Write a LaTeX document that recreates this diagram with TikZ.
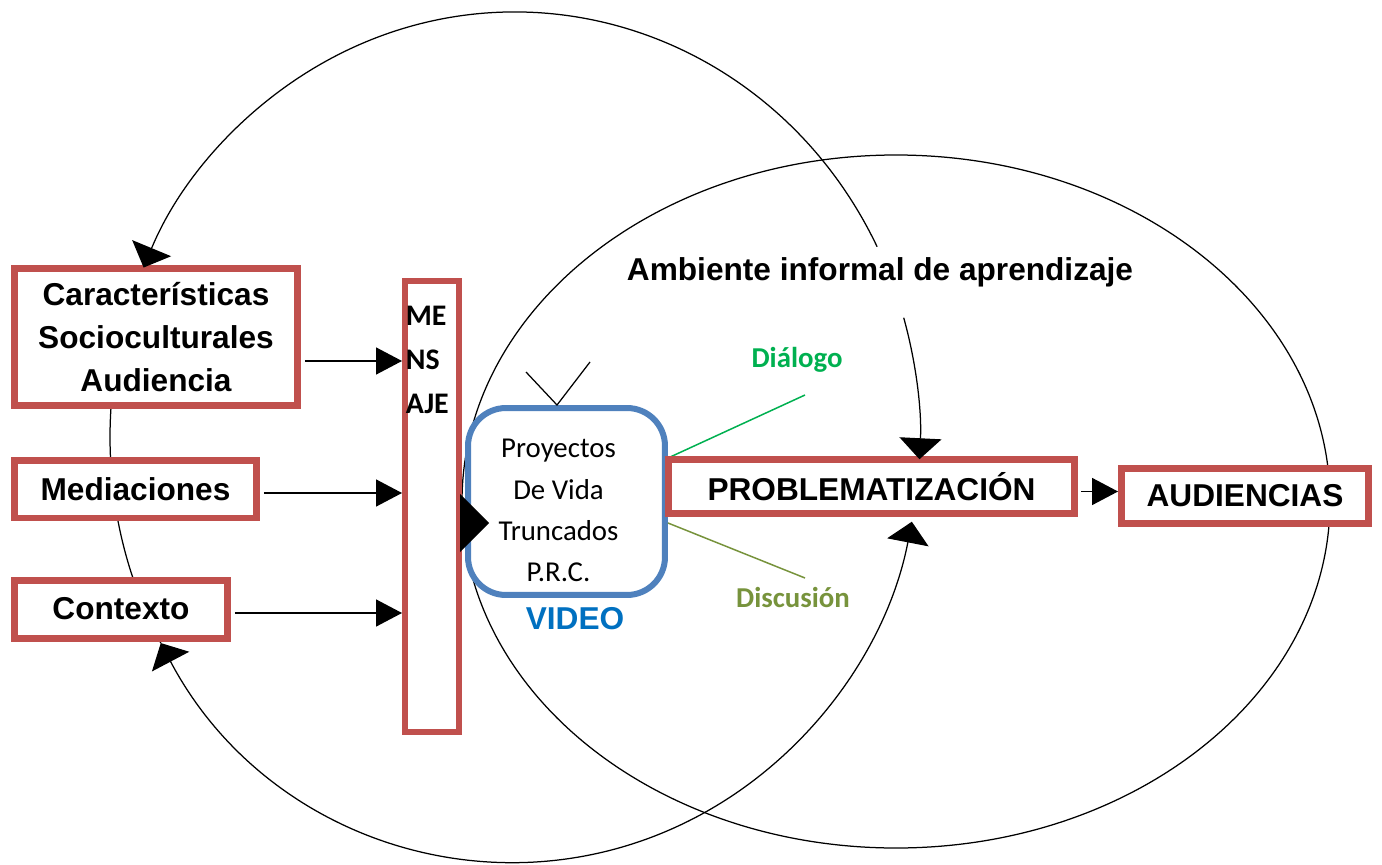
\documentclass[tikz,border=0pt]{standalone}
\usepackage{fontspec}
\setmainfont{Liberation Sans}
\newfontfamily\calibri{Carlito}
\usepackage{tikz}
\usetikzlibrary{arrows.meta, positioning}
\definecolor{boxred}{RGB}{192,80,77}
\definecolor{videoblue}{RGB}{79,129,189}
\definecolor{videolabel}{RGB}{0,112,192}
\definecolor{dialgreen}{RGB}{0,176,80}
\definecolor{discolive}{RGB}{119,147,60}
\tikzstyle{redbox} = [rectangle, draw=boxred, line width=0.14cm, fill=white,
    align=center, font=\bfseries\fontsize{18}{24.4}\selectfont]
\tikzstyle{mensajebar} = [rectangle, draw=boxred, line width=0.12cm, fill=white,
    minimum width=1.08cm, minimum height=9.02cm]
\tikzstyle{videobox} = [rectangle, rounded corners=0.76cm, draw=videoblue, line width=0.12cm,
    minimum width=3.94cm, minimum height=3.74cm]
\tikzstyle{videotext} = [align=center, font=\calibri\fontsize{16.4}{23.4}\selectfont]
\tikzstyle{titletext} = [font=\bfseries\fontsize{18}{22}\selectfont]
\tikzstyle{tagtext} = [font=\calibri\bfseries\fontsize{16.4}{20}\selectfont]
\tikzstyle{thinline} = [line width=0.025cm]
\tikzstyle{arrow} = [line width=0.03cm, -{Triangle[length=0.52cm, width=0.54cm]}]
\tikzstyle{bigarrow} = [line width=0.03cm, -{Triangle[length=0.58cm, width=1.16cm]}]
\tikzstyle{looparrow} = [line width=0.025cm, -{Triangle[length=0.42cm, width=0.84cm]}]
\tikzstyle{loopboth} = [line width=0.025cm,
    {Triangle[length=0.42cm, width=0.84cm]}-{Triangle[length=0.42cm, width=0.84cm]}]

\begin{document}
\begin{tikzpicture}[x=0.02cm, y=-0.02cm]
    \useasboundingbox (0,0) rectangle (1382,865);
    % the two circles, behind the boxes
    \coordinate (loopc) at (515,437);
    \draw [thinline] (896,501.5) ellipse [x radius=434, y radius=346.5];
    \draw [thinline] ([shift={(203.5:405 and 425)}]loopc)
        arc [start angle=203.5, end angle=151, x radius=405, y radius=425];

    \node (carac) [redbox, minimum width=5.68cm, minimum height=2.76cm] at (156,337) {Características\\Socioculturales\\Audiencia};
    \node (mediac) [redbox, minimum width=4.86cm, minimum height=1.16cm] at (135.5,489) {Mediaciones};
    \node (contexto) [redbox, minimum width=4.28cm, minimum height=1.16cm] at (121,609) {Contexto};
    \node (mensaje) [mensajebar] at (432,506.5) {};
    \node (mensajetxt) [below right=0.56cm and 0.07cm of mensaje.north west, inner sep=0pt, align=left,
        font=\calibri\bfseries\fontsize{17}{25}\selectfont] {ME\\NS\\AJE};
    \node (video) [videobox] at (566.5,501.5) {};
    \node (videotxt) [videotext] at ([xshift=-0.16cm, yshift=-0.18cm]video.center) {Proyectos\\De Vida\\Truncados\\P.R.C.};
    \node (videolbl) [titletext, text=videolabel] at (575,619) {VIDEO};

    \coordinate (dialogoend) at (805,395);
    \coordinate (discusionend) at (805,578);
    \draw [dialgreen, line width=0.03cm] ([yshift=0.87cm]video.east) -- (dialogoend);
    \draw [discolive, line width=0.03cm] ([yshift=-0.43cm]video.east) -- (discusionend);
    \node (dialogo) [tagtext, text=dialgreen] at (797,360) {Diálogo};
    \node (discusion) [tagtext, text=discolive] at (793,597) {Discusión};

    \node (prob) [redbox, minimum width=8.12cm, minimum height=1.08cm] at (871.5,486.5) {PROBLEMATIZACIÓN};
    \node (audiencias) [redbox, minimum width=4.94cm, minimum height=1.1cm] at (1245,496) {AUDIENCIAS};
    \node (ambiente) [titletext] at (880,272) {Ambiente informal de aprendizaje};

    % antenna of the video
    \coordinate (antleft) at (526,372);
    \coordinate (antright) at (590,362);
    \draw [thinline] (antleft) -- ([xshift=-0.19cm]video.north) -- (antright);

    % arrows into the message
    \coordinate (caracout) at ([xshift=0.07cm, yshift=-0.48cm]carac.east);
    \coordinate (mediacout) at ([xshift=0.07cm, yshift=-0.08cm]mediac.east);
    \coordinate (contextout) at ([xshift=0.07cm, yshift=-0.08cm]contexto.east);
    \draw [arrow] (caracout) -- (caracout -| mensaje.west);
    \draw [arrow] (mediacout) -- (mediacout -| mensaje.west);
    \draw [arrow] (contextout) -- (contextout -| mensaje.west);
    \coordinate (videoin) at ([yshift=-0.43cm]video.west);
    \draw [bigarrow] (videoin -| mensaje.east) -- ([xshift=0.48cm]videoin);
    \coordinate (probout) at ([xshift=0.07cm, yshift=-0.1cm]prob.east);
    \draw [arrow] (probout) -- (probout -| audiencias.west);

    % the loop back to the audience
    \draw [looparrow] ([shift={(-26.6:405 and 425)}]loopc)
        arc [start angle=-26.6, end angle=-156.5, x radius=405, y radius=425];
    \draw [looparrow] ([shift={(-16.3:405 and 425)}]loopc)
        arc [start angle=-16.3, end angle=3, x radius=405, y radius=425];
    \draw [loopboth] ([shift={(151:405 and 425)}]loopc)
        arc [start angle=151, end angle=11.5, x radius=405, y radius=425];
\end{tikzpicture}
\end{document}
